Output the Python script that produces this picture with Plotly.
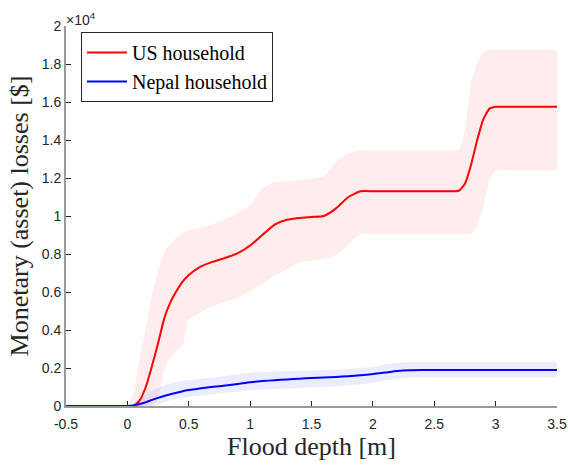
import plotly.graph_objects as go

# Flood depth grid [m]
depth = [-0.5, 0.0, 0.05, 0.1, 0.15, 0.2, 0.25, 0.3, 0.35, 0.4, 0.45, 0.5,
         0.6, 0.7, 0.8, 0.9, 1.0, 1.1, 1.2, 1.3, 1.4, 1.5, 1.6, 1.7, 1.8, 1.9,
         2.0, 2.1, 2.2, 2.3, 2.4, 2.5, 2.6, 2.7, 2.75, 2.8, 2.85, 2.9, 2.95,
         3.0, 3.1, 3.2, 3.3, 3.4, 3.5]

# US household losses [$]
us_mean = [0, 0, 0, 300, 1000, 2100, 3300, 4600, 5450, 6050, 6550, 6900,
           7350, 7600, 7800, 8050, 8450, 9000, 9550, 9800, 9900, 9950, 10000, 10400, 11000, 11300,
           11300, 11300, 11300, 11300, 11300, 11300, 11300, 11330, 11700, 12700, 14000, 15100, 15650,
           15750, 15750, 15750, 15750, 15750, 15750]
us_upper = [0, 0, 700, 2500, 4100, 5800, 7100, 8100, 8550, 8850, 9100, 9280,
            9380, 9580, 9850, 10150, 10550, 11450, 11780, 11850, 11900, 11950, 12100, 12850, 13300, 13450,
            13450, 13450, 13450, 13450, 13450, 13450, 13450, 13500, 14500, 17000, 18100, 18600, 18750,
            18750, 18750, 18750, 18750, 18750, 18750]
us_lower = [0, 0, 0, 0, 0, 0, 400, 1900, 2550, 2900, 3200, 4500,
            4950, 5250, 5500, 5700, 6050, 6450, 6850, 7200, 7550, 7650, 7750, 7950, 8500, 9050,
            9050, 9050, 9050, 9050, 9050, 9050, 9050, 9050, 9050, 9080, 9500, 10500, 11900,
            12400, 12400, 12400, 12400, 12400, 12400]

# Nepal household losses [$]
np_mean = [0, 0, 30, 110, 200, 320, 430, 530, 615, 700, 780, 840,
           930, 1010, 1080, 1160, 1250, 1310, 1360, 1400, 1440, 1470, 1500, 1530, 1570, 1620,
           1680, 1760, 1840, 1880, 1890, 1890, 1890, 1890, 1890, 1890, 1890, 1890, 1890,
           1890, 1890, 1890, 1890, 1890, 1890]
np_upper = [0, 0, 150, 400, 620, 800, 960, 1080, 1180, 1260, 1320, 1370,
            1440, 1500, 1580, 1680, 1750, 1790, 1820, 1840, 1860, 1870, 1890, 1920, 1960, 2000,
            2050, 2180, 2270, 2320, 2320, 2320, 2320, 2320, 2320, 2320, 2320, 2320, 2320,
            2320, 2320, 2320, 2320, 2320, 2320]
np_lower = [0, 0, 0, 0, 0, 0, 80, 200, 300, 370, 430, 480,
            550, 620, 700, 760, 820, 860, 890, 920, 950, 980, 1000, 1040, 1090, 1150,
            1220, 1340, 1440, 1490, 1500, 1500, 1500, 1500, 1500, 1500, 1500, 1500, 1500,
            1500, 1500, 1500, 1500, 1500, 1500]

x_ticks = [-0.5, 0, 0.5, 1, 1.5, 2, 2.5, 3, 3.5]
x_tick_text = ["-0.5", "0", "0.5", "1", "1.5", "2", "2.5", "3", "3.5"]
y_ticks = [0, 2000, 4000, 6000, 8000, 10000, 12000, 14000, 16000, 18000, 20000]
y_tick_text = ["0", "0.2", "0.4", "0.6", "0.8", "1", "1.2", "1.4", "1.6", "1.8", "2"]

series = [
    ("US household", us_mean, us_lower, us_upper, "#ff0000", "rgba(255,0,0,0.075)"),
    ("Nepal household", np_mean, np_lower, np_upper, "#0000ff", "rgba(0,0,255,0.075)"),
]

fig = go.Figure()
for name, mean, lo, hi, col, fcol in series:
    fig.add_trace(go.Scatter(x=depth, y=lo, mode="lines", line=dict(width=0, shape="spline", smoothing=0.5),
                             showlegend=False, hoverinfo="skip"))
    fig.add_trace(go.Scatter(x=depth, y=hi, mode="lines", line=dict(width=0, shape="spline", smoothing=0.5),
                             fill="tonexty", fillcolor=fcol, showlegend=False, hoverinfo="skip"))
for name, mean, lo, hi, col, fcol in series:
    fig.add_trace(go.Scatter(x=depth, y=mean, mode="lines", name=name,
                             line=dict(color=col, width=2, shape="spline", smoothing=0.5)))

tick_font = dict(family="Liberation Sans, Arial, sans-serif", size=14, color="#262626")
title_font = dict(family="Liberation Serif, Times New Roman, serif", size=26, color="#262626")

fig.update_layout(
    width=568, height=466,
    margin=dict(l=66, r=11, t=26, b=60, autoexpand=False),
    plot_bgcolor="white", paper_bgcolor="white",
    showlegend=True,
    legend=dict(x=0.0305, y=0.984, xanchor="left", yanchor="top", traceorder="normal",
                bgcolor="white", bordercolor="#262626", borderwidth=1,
                font=dict(family="Liberation Serif, Times New Roman, serif", size=20, color="#000000"),
                tracegroupgap=0, itemwidth=40),
    xaxis=dict(range=[-0.5, 3.5], tickvals=x_ticks, ticktext=x_tick_text,
               ticks="inside", ticklen=5, tickwidth=1, tickcolor="#262626",
               showline=True, linecolor="#9a9a9a", linewidth=2, showgrid=False, zeroline=False,
               automargin=False, ticklabelstandoff=4,
               tickfont=tick_font, title=dict(text="Flood depth [m]", font=title_font, standoff=5)),
    yaxis=dict(range=[0, 20000], tickvals=y_ticks, ticktext=y_tick_text,
               ticks="inside", ticklen=5, tickwidth=1, tickcolor="#262626",
               showline=True, linecolor="#9a9a9a", linewidth=2, showgrid=False, zeroline=False,
               automargin=False,
               tickfont=tick_font, title=dict(text="Monetary (asset) losses [$]", font=title_font, standoff=6)),
    annotations=[dict(text="×10<sup>4</sup>", xref="paper", yref="paper", x=0, y=1,
                      xanchor="left", yanchor="bottom", showarrow=False, xshift=-2, yshift=-4,
                      font=dict(family="Liberation Sans, Arial, sans-serif", size=14, color="#262626"))],
)

fig.write_html("out.html", config={"displayModeBar": False},
               post_script="document.body.style.margin='0';document.body.style.overflow='hidden';")
